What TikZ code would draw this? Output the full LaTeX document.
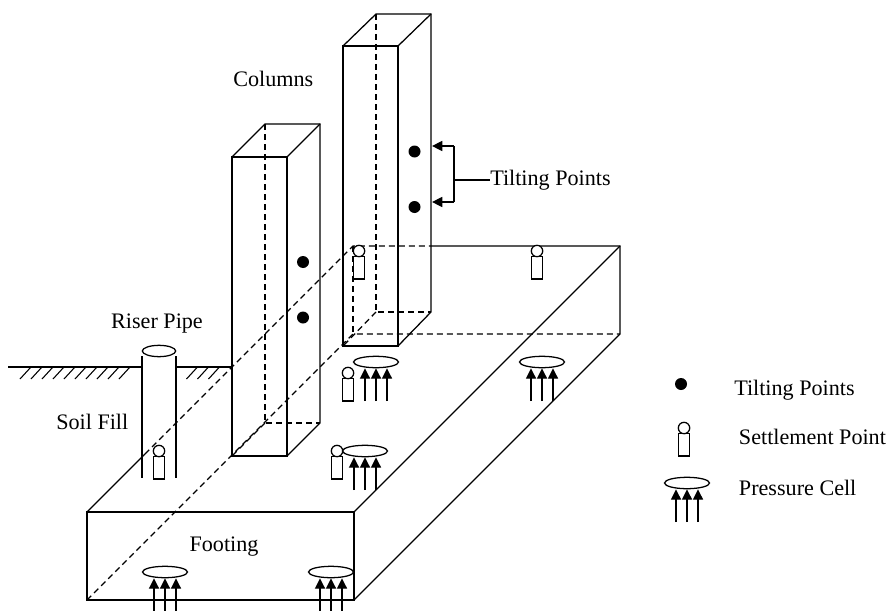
\documentclass[tikz,border=0pt]{standalone}
\usepackage{fontspec}
\setmainfont{Liberation Serif}
\usetikzlibrary{arrows.meta,shapes.geometric}
\tikzset{
	thin line/.style={line width=0.95pt},
	hidden/.style={line width=0.95pt,dash pattern=on 4.5pt off 3pt},
	hatch/.style={line width=0.8pt},
	label/.style={font=\fontsize{16.6}{18}\selectfont,inner sep=0pt},
	dot/.style={circle,fill=black,draw=none,minimum size=9pt,inner sep=0pt},
	upArrow/.style={line width=0.95pt,-{Triangle[length=7.8pt,width=7.6pt]}},
	settle/.pic={
		\draw [thin line,fill=white] (-5.7,5.7) rectangle (5.7,28);
		\draw [thin line,fill=white] (0,0) circle (5.7);
	},
	cell/.pic={
		\draw [thin line,fill=white] (0,0) ellipse (22.5 and 5.7);
		\draw [upArrow] (-11,39) -- (-11,6.3);
		\draw [upArrow] (0,39) -- (0,6.3);
		\draw [upArrow] (11,39) -- (11,6.3);
	}
}
\begin{document}
\begin{tikzpicture}[x=0.75pt,y=-0.75pt]
	\useasboundingbox (0,0) rectangle (888,610);

	% footing
	\coordinate (A) at (87,600);
	\coordinate (B) at (354,600);
	\coordinate (C) at (354,512);
	\coordinate (D) at (87,512);
	\coordinate (E) at (620,334);
	\coordinate (F) at (620,246);
	\coordinate (G) at (353,334);
	\coordinate (H) at (353,246);
	\coordinate (K) at (145,454);
	\coordinate (L) at (431,246);

	\draw [thin line] (A) -- (B) -- (C) -- (D) -- cycle;
	\draw [thin line] (D) -- (K);
	\draw [thin line] (C) -- (F);
	\draw [thin line] (B) -- (E) -- (F) -- (L);
	\draw [hidden] (K) -- (H) -- (L);
	\draw [hidden] (A) -- (G) -- (E);
	\draw [hidden] (H) -- (G);

	% first column
	\coordinate (P1) at (232,456);
	\coordinate (P2) at (287,456);
	\coordinate (P3) at (287,157);
	\coordinate (P4) at (232,157);
	\coordinate (P5) at (320,423);
	\coordinate (P6) at (320,124);
	\coordinate (P7) at (265,124);
	\coordinate (P8) at (265,423);

	\draw [thin line] (P1) -- (P2) -- (P3) -- (P4) -- cycle;
	\draw [thin line] (P2) -- (P5) -- (P6) -- (P7) -- (P4);
	\draw [thin line] (P3) -- (P6);
	\draw [hidden] (P7) -- (P8) -- (P5);
	\draw [hidden] (P8) -- (P1);

	% second column
	\coordinate (Q1) at (343,346);
	\coordinate (Q2) at (398,346);
	\coordinate (Q3) at (398,46);
	\coordinate (Q4) at (343,46);
	\coordinate (Q5) at (431,312);
	\coordinate (Q6) at (431,14);
	\coordinate (Q7) at (376,14);
	\coordinate (Q8) at (376,312);

	\draw [thin line] (Q1) -- (Q2) -- (Q3) -- (Q4) -- cycle;
	\draw [thin line] (Q2) -- (Q5) -- (Q6) -- (Q7) -- (Q4);
	\draw [thin line] (Q3) -- (Q6);
	\draw [hidden] (Q7) -- (Q8) -- (Q5);
	\draw [hidden] (Q8) -- (Q1);

	% riser pipe and ground
	\coordinate (R1) at (142,356);
	\coordinate (R2) at (142,478);
	\coordinate (R3) at (176,356);
	\coordinate (R4) at (176,478);
	\coordinate (S1) at (8,367);
	\coordinate (S2) at (142,367);
	\coordinate (S3) at (176,367);

	\draw [thin line] (R1) -- (R2);
	\draw [thin line] (R3) -- (R4);
	\draw [thin line] (S1) -- (S2);
	\draw [thin line] (S3) -- (P1 |- S3);
	\node (pipeTop) [draw,thin line,ellipse,minimum width=25pt,minimum height=8.5pt,inner sep=0pt] at (159,351) {};
	\foreach \x in {20,31,...,119,186.5,197.5,208.5}
		\draw [hatch] (\x,379) -- (\x+11,367);

	% tilting points
	\node (t1) [dot] at (303,262) {};
	\node (t2) [dot] at (303,317.5) {};
	\node (t3) [dot] at (414.5,151.5) {};
	\node (t4) [dot] at (414.5,207) {};
	\node (t5) [dot] at (681,384) {};

	% bracket
	\coordinate (U1) at (454,146);
	\coordinate (U2) at (454,202);
	\coordinate (U3) at (432,146);
	\coordinate (U4) at (432,202);
	\coordinate (U5) at (454,180);
	\node (tiltLabel) [label,anchor=west] at (490,180) {Tilting Points};
	\draw [upArrow] (U1) -- (U3);
	\draw [upArrow] (U2) -- (U4);
	\draw [thin line] (U1) -- (U2);
	\draw [thin line] (U5) -- (tiltLabel.west |- U5);

	% settlement points
	\pic at (359,251) {settle};
	\pic at (537,251) {settle};
	\pic at (348,373) {settle};
	\pic at (337,451) {settle};
	\pic at (159,451) {settle};
	\pic at (684,428) {settle};

	% pressure cells
	\pic at (376,362) {cell};
	\pic at (542,362) {cell};
	\pic at (365,451) {cell};
	\pic at (165,572) {cell};
	\pic at (331,572) {cell};
	\pic at (687,483) {cell};

	% labels
	\node (columns) [label] at (273.3,79) {Columns};
	\node (riser) [label] at (157,323.5) {Riser Pipe};
	\node (soil) [label] at (92.3,421.7) {Soil Fill};
	\node (footing) [label] at (224,546.5) {Footing};
	\node (legendTilt) [label,anchor=west] at (734,390) {Tilting Points};
	\node (legendSettle) [label,anchor=west] at (738.7,436.7) {Settlement Point};
	\node (legendCell) [label,anchor=west] at (738.7,487.7) {Pressure Cell};
\end{tikzpicture}
\end{document}
